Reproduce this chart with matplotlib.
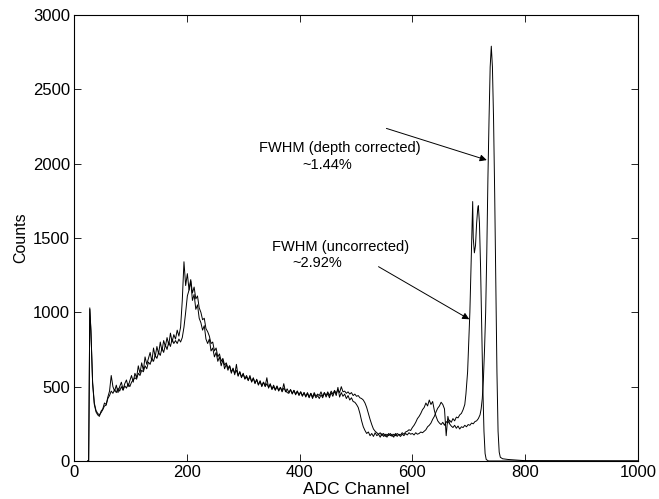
import matplotlib
matplotlib.use('Agg')
import matplotlib.pyplot as plt

plt.rcParams['font.family'] = ['Liberation Sans', 'DejaVu Sans']

# uncorrected spectrum: counts every 3 channels from channel 30
unc_start = [24, 26, 27, 28]
unc_start_cnt = [0, 0, 500, 1030]
unc_dense = [
    880, 520, 380, 330, 310, 300, 335, 350, 390, 380,        # 30
    430, 470, 575, 500, 470, 510, 460, 500, 530, 480,        # 60
    520, 545, 500, 540, 575, 530, 590, 560, 640, 590,        # 90
    660, 610, 700, 650, 690, 730, 670, 760, 700, 770,        # 120
    720, 800, 740, 810, 770, 830, 780, 860, 800, 850,        # 150
    820, 880, 840, 900, 1080, 1340, 1180, 1260, 1150, 1210,  # 180
    1080, 1120, 1020, 1050, 960, 930, 880, 910, 820, 790,    # 210
    820, 740, 760, 700, 730, 670, 700, 640, 680, 620,        # 240
    650, 610, 640, 590, 625, 580, 650, 570, 600, 560,        # 270
    590, 550, 565, 540, 575, 530, 560, 520, 550, 510,        # 300
    540, 500, 530, 505, 560, 490, 520, 480, 500, 475,        # 330
    500, 470, 495, 465, 490, 475, 460, 455, 480, 450,        # 360
    475, 445, 470, 440, 465, 435, 460, 430, 455, 425,        # 390
    455, 420, 450, 425, 440, 420, 445, 425, 460, 430,        # 420
    455, 425, 460, 435, 470, 440, 495, 430, 460, 435,        # 450
    450, 420, 440, 410, 425, 400, 395, 380, 360, 320,        # 480
    270, 230, 205, 185, 195, 170, 185, 165, 190, 170,        # 510
    180, 160, 185, 165, 180, 160, 185, 170, 180, 160,        # 540
    185, 165, 180, 175, 190, 180, 195, 200, 210, 205,        # 570
    225, 240, 260, 285, 300, 320, 345, 360, 390, 370,        # 600
    410, 380, 400, 340, 300, 270, 255, 245, 260, 240,        # 630
    265, 255, 275, 260, 285, 270, 295, 290, 310, 320,        # 660
    345, 380,                                                # 690
]
unc_peak = [695, 698, 700, 702, 704, 706, 707, 708, 710, 712, 714, 716, 717, 719, 721, 723, 725,
            727, 729, 731, 735, 800, 1000]
unc_peak_cnt = [450, 600, 800, 1000, 1300, 1600, 1745, 1500, 1400, 1450, 1600, 1700, 1717, 1600, 1300, 900, 500,
                200, 50, 10, 0, 0, 0]

# depth corrected spectrum
cor_start = [24, 26, 27, 28]
cor_start_cnt = [0, 0, 500, 1020]
cor_dense = [
    870, 530, 390, 340, 320, 310, 325, 345, 370, 375,        # 30
    420, 440, 470, 455, 480, 460, 490, 470, 500, 475,        # 60
    505, 490, 520, 500, 530, 545, 560, 550, 590, 575,        # 90
    610, 600, 640, 620, 665, 650, 690, 670, 710, 690,        # 120
    730, 710, 760, 730, 780, 750, 800, 770, 820, 790,        # 150
    810, 790, 820, 800, 830, 900, 1000, 1110, 1150, 1220,    # 180
    1130, 1170, 1090, 1110, 1030, 1000, 950, 960, 890, 870,  # 210
    840, 790, 800, 740, 760, 700, 720, 670, 690, 645,        # 240
    660, 625, 640, 600, 620, 590, 610, 575, 600, 565,        # 270
    585, 555, 575, 545, 565, 535, 555, 525, 545, 515,        # 300
    535, 505, 530, 500, 520, 495, 515, 485, 510, 480,        # 330
    505, 475, 495, 470, 520, 465, 485, 460, 480, 455,        # 360
    475, 450, 470, 445, 465, 440, 460, 435, 460, 430,        # 390
    455, 430, 460, 435, 450, 440, 465, 435, 460, 440,        # 420
    465, 440, 470, 450, 475, 455, 480, 460, 500, 465,        # 450
    470, 455, 465, 450, 460, 440, 450, 435, 440, 425,        # 480
    420, 410, 390, 360, 320, 280, 245, 215, 200, 190,        # 510
    180, 190, 170, 185, 165, 180, 170, 185, 165, 180,        # 540
    170, 185, 175, 165, 180, 170, 185, 175, 190, 180,        # 570
    185, 175, 190, 180, 185, 195, 190, 200, 210, 230,        # 600
    240, 255, 280, 300, 330, 355, 370, 395, 380, 350,        # 630
    170, 300, 250, 235, 225, 240, 220, 235, 215, 230,        # 660
    225, 240, 230, 245, 240, 255, 250, 265, 270, 285,        # 690
    310,                                                     # 720
]
cor_peak = [722, 724, 726, 728, 730, 732, 734, 736, 738, 740, 742, 744, 746, 748, 750, 752, 754, 756,
            760, 770, 790, 800, 1000]
cor_peak_cnt = [350, 420, 550, 750, 1000, 1400, 1900, 2300, 2650, 2790, 2650, 2300, 1800, 1200, 600, 200, 60, 25,
                15, 10, 5, 2, 0]

ch_unc = unc_start + list(range(30, 30 + 3 * len(unc_dense), 3)) + unc_peak
cnt_unc = unc_start_cnt + unc_dense + unc_peak_cnt
ch_cor = cor_start + list(range(30, 30 + 3 * len(cor_dense), 3)) + cor_peak
cnt_cor = cor_start_cnt + cor_dense + cor_peak_cnt

fig = plt.figure(figsize=(6.59, 4.99), dpi=100)
ax = fig.add_axes([0.1123, 0.0762, 0.8557, 0.8938])

ax.plot(ch_unc, cnt_unc, color='black', lw=0.7)
ax.plot(ch_cor, cnt_cor, color='black', lw=0.7)

ax.set_xlim(0, 1000)
ax.set_ylim(0, 3000)
ax.set_xticks([0, 200, 400, 600, 800, 1000])
ax.set_yticks([0, 500, 1000, 1500, 2000, 2500, 3000])
ax.tick_params(direction='in', top=True, right=True, length=5, width=0.6, labelsize=12, pad=3)
for s in ax.spines.values():
    s.set_linewidth(0.8)

ax.set_xlabel('ADC Channel', fontsize=12.5, labelpad=1.5)
ax.set_ylabel('Counts', fontsize=11.5, labelpad=3)

ax.text(472, 2105, 'FWHM (depth corrected)', ha='center', va='center', fontsize=10.5)
ax.text(449, 1990, '~1.44%', ha='center', va='center', fontsize=10.5)
ax.text(472, 1441, 'FWHM (uncorrected)', ha='center', va='center', fontsize=10.5)
ax.text(431, 1331, '~2.92%', ha='center', va='center', fontsize=10.5)

arrow = dict(arrowstyle='-|>', color='black', lw=0.7, mutation_scale=10, shrinkA=0, shrinkB=0)
ax.annotate('', xy=(732, 2024), xytext=(554, 2237), arrowprops=arrow)
ax.annotate('', xy=(701, 953), xytext=(540, 1307), arrowprops=arrow)

fig.savefig('out.png', dpi=100)
